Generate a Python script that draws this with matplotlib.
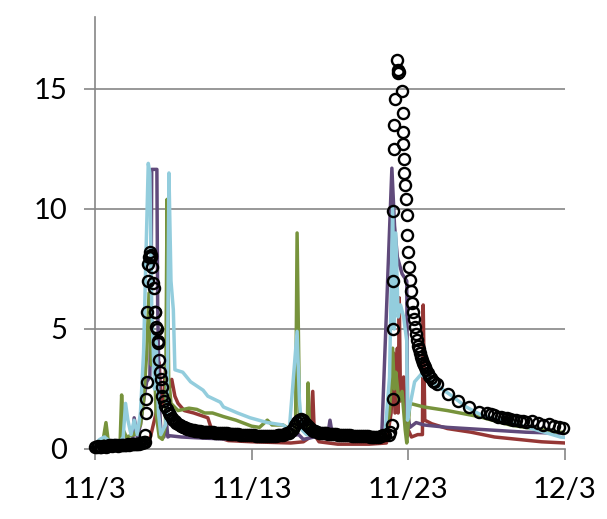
import matplotlib
matplotlib.use("Agg")
import matplotlib.pyplot as plt
import numpy as np

plt.rcParams['font.family'] = ['Lato', 'DejaVu Sans']

# x is days since 11/3
tick_days = [0, 10, 20, 30]
tick_labels = ['11/3', '11/13', '11/23', '12/3']
y_ticks = [0, 5, 10, 15]

# observed (circles)
obs_a_day = np.arange(0.0, 3.25, 0.1)
obs_a_val = [0.1, 0.1, 0.12, 0.1, 0.1, 0.12, 0.12, 0.1, 0.12, 0.15, 0.15, 0.12, 0.15,
             0.15, 0.15, 0.12, 0.15, 0.18, 0.15, 0.15, 0.18, 0.2, 0.18, 0.2, 0.2, 0.2,
             0.22, 0.2, 0.22, 0.25, 0.25, 0.28, 0.3]
obs_b_day = [3.2, 3.23, 3.26, 3.29, 3.32, 3.36, 3.4, 3.44, 3.48, 3.55, 3.6, 3.65, 3.7,
             3.75, 3.8, 3.85, 3.9, 3.95, 4.0, 4.05, 4.1, 4.15, 4.2, 4.25]
obs_b_val = [0.6, 1.5, 2.1, 2.8, 5.7, 7.0, 7.7, 8.0, 8.2, 8.1, 8.0, 7.6, 6.9,
             6.7, 5.7, 5.7, 5.1, 5.0, 4.5, 4.4, 3.7, 3.2, 2.9, 2.6]
obs_c_day = np.arange(4.3, 7.35, 0.1)
obs_c_val = [2.2, 2.0, 1.8, 1.65, 1.5, 1.4, 1.3, 1.2, 1.15, 1.1, 1.05, 1.0, 0.95, 0.92,
             0.9, 0.87, 0.85, 0.83, 0.8, 0.8, 0.78, 0.77, 0.75, 0.75, 0.73, 0.72, 0.72,
             0.7, 0.7, 0.7, 0.7]
obs_d_day = 7.4 + 0.125 * np.arange(90)
obs_d_val = [0.7, 0.7, 0.68, 0.68, 0.67, 0.67, 0.66, 0.65, 0.65, 0.64, 0.63, 0.63, 0.62,
             0.62, 0.61, 0.6, 0.6, 0.6, 0.59, 0.58,
             0.58, 0.57, 0.57, 0.56, 0.56, 0.55, 0.55, 0.55, 0.54, 0.54, 0.55, 0.55, 0.56,
             0.56, 0.57, 0.58, 0.6, 0.6, 0.62, 0.65,
             0.68, 0.75, 0.85, 1.0, 1.12, 1.2, 1.25, 1.2, 1.1, 1.0, 0.9, 0.82, 0.77, 0.73,
             0.7, 0.68, 0.67, 0.66, 0.65, 0.65,
             0.64, 0.63, 0.63, 0.62, 0.62, 0.6, 0.6, 0.6, 0.58, 0.58, 0.57, 0.57, 0.56,
             0.56, 0.55, 0.55, 0.55, 0.54, 0.54, 0.53,
             0.53, 0.52, 0.52, 0.5, 0.5, 0.5, 0.52, 0.55, 0.58, 0.6]
obs_e_day = [18.75, 18.85, 18.95, 19.0, 19.02, 19.03, 19.04, 19.06, 19.08, 19.15, 19.27,
             19.32, 19.37, 19.42, 19.59, 19.64, 19.66, 19.68, 19.72, 19.74, 19.78, 19.85,
             19.91, 19.94, 19.97, 20.04, 20.1, 20.17, 20.23, 20.29, 20.36, 20.42, 20.48,
             20.55, 20.62, 20.68, 20.74, 20.8, 20.87, 20.93, 21.0, 21.06, 21.15, 21.25,
             21.35, 21.45, 21.55, 21.65, 21.83, 22.55, 23.2, 23.9, 24.5, 25.0, 25.3, 25.5,
             25.7, 25.9, 26.1, 26.3, 26.5, 26.7, 26.9, 27.1, 27.3, 27.5, 27.9, 28.3, 28.6,
             29.0, 29.3, 29.6, 29.9]
obs_e_val = [0.6, 0.7, 1.0, 2.1, 5.0, 7.0, 9.9, 12.5, 13.5, 14.6, 16.2,
             15.8, 15.65, 15.7, 14.9, 14.0, 13.2, 12.7, 12.1, 11.5, 11.0, 10.4,
             9.75, 8.9, 8.2, 7.6, 7.05, 6.6, 6.1, 5.7, 5.4, 5.1, 4.8,
             4.55, 4.3, 4.15, 4.0, 3.85, 3.7, 3.6, 3.5, 3.4, 3.3, 3.15,
             3.05, 2.95, 2.85, 2.8, 2.72, 2.3, 2.0, 1.75, 1.55, 1.5, 1.45, 1.4,
             1.35, 1.32, 1.3, 1.28, 1.25, 1.22, 1.2, 1.18, 1.15, 1.12, 1.15, 1.1, 1.0,
             1.05, 0.95, 0.9, 0.88]

# model runs (lines)
red_day = [0, 1.5, 3.0, 3.5, 3.9, 4.1, 4.2, 4.35, 4.5, 4.7, 4.9, 5.1, 5.3, 5.7, 6.3, 7.2,
           7.4, 7.8, 8.5, 10, 12.5, 13.3, 13.75, 13.9, 14.0, 14.3, 15.5, 17.5, 18.6, 18.9,
           19.05, 19.15, 19.3, 19.35, 19.42, 19.5, 19.7, 19.85, 20.2, 20.6, 20.9, 20.95,
           21.05, 21.5, 22.5, 24.0, 25.5, 27.0, 28.5, 30]
red_val = [0.1, 0.12, 0.12, 0.4, 1.5, 3.6, 2.0, 1.8, 3.3, 2.4, 2.9, 2.2, 1.9, 1.6, 1.5, 1.3,
           0.9, 0.5, 0.35, 0.3, 0.25, 0.3, 0.5, 2.4, 0.6, 0.3, 0.2, 0.2, 0.25, 1.5,
           4.0, 1.5, 4.2, 1.5, 6.3, 2.0, 3.0, 1.0, 0.5, 0.6, 0.6, 6.0,
           1.2, 1.05, 0.85, 0.7, 0.5, 0.4, 0.3, 0.25]

purple_day = [0, 1.0, 2.0, 2.4, 2.5, 2.7, 2.9, 3.1, 3.3, 3.5, 3.58, 3.62, 3.95, 4.0, 4.1,
              4.2, 4.4, 4.55, 4.65, 4.8, 5.5, 7.0, 9, 11, 13.0, 13.3, 14.0, 14.85, 15.0,
              15.15, 16, 17.5, 18.3, 18.95, 19.12, 19.3, 19.6, 19.9, 19.95, 20.1, 20.5,
              21.0, 22.5, 25, 27.5, 30]
purple_val = [0.15, 0.2, 0.2, 0.3, 1.3, 0.5, 1.0, 2.0, 2.8, 3.0, 6.0, 11.65, 11.65, 6.0,
              2.0, 0.8, 0.5, 1.2, 0.5, 0.55, 0.5, 0.45, 0.4, 0.4, 0.6, 0.4, 0.5, 0.55,
              1.2, 0.6, 0.5, 0.45, 0.5, 11.7, 9.3, 8.0, 7.3, 7.0, 1.5, 0.9, 1.1,
              1.0, 0.9, 0.8, 0.7, 0.65]

green_day = [0, 0.5, 0.7, 0.85, 1.0, 1.6, 1.7, 1.8, 2.0, 2.5, 2.9, 3.1, 3.3, 3.45, 3.6,
             3.75, 3.9, 4.1, 4.3, 4.5, 4.6, 4.7, 4.85, 5.3, 6.0, 6.5, 7.0, 7.5, 8.2, 9.0,
             10.0, 10.5, 11.0, 11.3, 12.0, 12.5, 12.8, 12.9, 13.05, 13.3, 13.55, 13.6,
             13.7, 14.0, 15.5, 17, 18.5, 18.8, 19.0, 19.1, 19.2, 19.4, 19.6, 19.8, 19.9,
             20.1, 21.0, 22.5, 24.5, 26.5, 29.5, 30]
green_val = [0.2, 0.3, 1.1, 0.3, 0.2, 0.2, 2.25, 0.8, 0.5, 0.6, 1.0, 2.0, 4.0, 6.5, 3.5,
             4.5, 1.5, 0.5, 0.4, 1.0, 10.4, 3.0, 1.9, 1.6, 1.7, 1.65, 1.5, 1.5, 1.35, 1.2,
             0.95, 0.9, 1.2, 1.0, 1.0, 0.8, 0.7, 9.0, 1.5, 0.9, 0.8, 2.75,
             0.9, 0.7, 0.6, 0.55, 0.55, 1.5, 4.2, 2.5, 3.2, 2.0, 2.4, 0.8, 0.25,
             1.9, 1.75, 1.6, 1.35, 1.0, 0.7, 0.7]

blue_day = [0, 0.3, 0.6, 1.0, 1.5, 1.8, 1.95, 2.1, 2.3, 2.5, 2.7, 2.9, 3.1, 3.25, 3.4,
            3.5, 3.62, 3.8, 3.9, 4.05, 4.2, 4.5, 4.62, 4.72, 4.85, 5.0, 5.1, 5.6, 6.1,
            6.9, 7.2, 8.0, 8.2, 9.1, 9.9, 11.0, 12.0, 12.4, 12.9, 13.05, 13.2, 13.5, 15,
            17, 18.5, 18.8, 19.0, 19.1, 19.2, 19.35, 19.5, 19.7, 19.9, 19.95, 20.1, 20.4,
            20.8, 21.3, 21.7, 22.7, 23.7, 24.7, 25.8, 27.8, 29.7, 30]
blue_val = [0.2, 0.4, 0.5, 0.3, 0.2, 0.5, 1.9, 1.2, 0.6, 1.2, 0.6, 1.5, 4.0, 8.0, 11.9,
            11.5, 6.0, 2.5, 4.5, 1.5, 0.6, 1.0, 2.0, 11.5, 7.0, 5.8, 3.3, 3.2, 2.8,
            2.45, 2.2, 1.95, 1.75, 1.5, 1.3, 1.1, 1.0, 0.8, 4.9, 2.0, 0.8, 0.6, 0.5,
            0.5, 0.5, 3.0, 10.1, 5.0, 9.0, 5.5, 6.0, 5.5, 4.5, 1.2, 1.8, 2.8,
            3.1, 2.9, 2.7, 2.25, 1.75, 1.4, 1.2, 0.87, 0.5, 0.48]

fig = plt.figure(figsize=(6.07, 5.19), dpi=100)
ax = fig.add_axes([0.1565, 0.1349, 0.7743, 0.8324])

grey = '#868686'
lw = 2.5
ax.plot(red_day, red_val, color='#953735', lw=lw, zorder=3)
ax.plot(purple_day, purple_val, color='#604A7B', lw=lw, zorder=3)
ax.plot(green_day, green_val, color='#77933C', lw=lw, zorder=3)
ax.plot(blue_day, blue_val, color='#93CDDD', lw=lw, zorder=3)

obs_day = np.concatenate([obs_a_day, obs_b_day, obs_c_day, obs_d_day, obs_e_day])
obs_val = np.concatenate([obs_a_val, obs_b_val, obs_c_val, obs_d_val, obs_e_val])
ax.plot(obs_day, obs_val, ls='none', marker='o', ms=8, mfc='none', mec='black',
        mew=1.7, zorder=4, clip_on=False)

ax.set_xlim(0, 30)
ax.set_ylim(0, 18)
ax.set_xticks(tick_days)
ax.set_xticklabels(tick_labels)
ax.set_yticks(y_ticks)

for y in y_ticks[1:]:
    ax.axhline(y, color=grey, lw=1.2, zorder=1)

for s in ['top', 'right']:
    ax.spines[s].set_visible(False)
for s in ['left', 'bottom']:
    ax.spines[s].set_color(grey)
    ax.spines[s].set_linewidth(1.2)

ax.tick_params(axis='both', colors=grey, labelcolor='black', labelsize=21,
               length=8, width=1.2, pad=12)

fig.savefig('out.png', dpi=100)
